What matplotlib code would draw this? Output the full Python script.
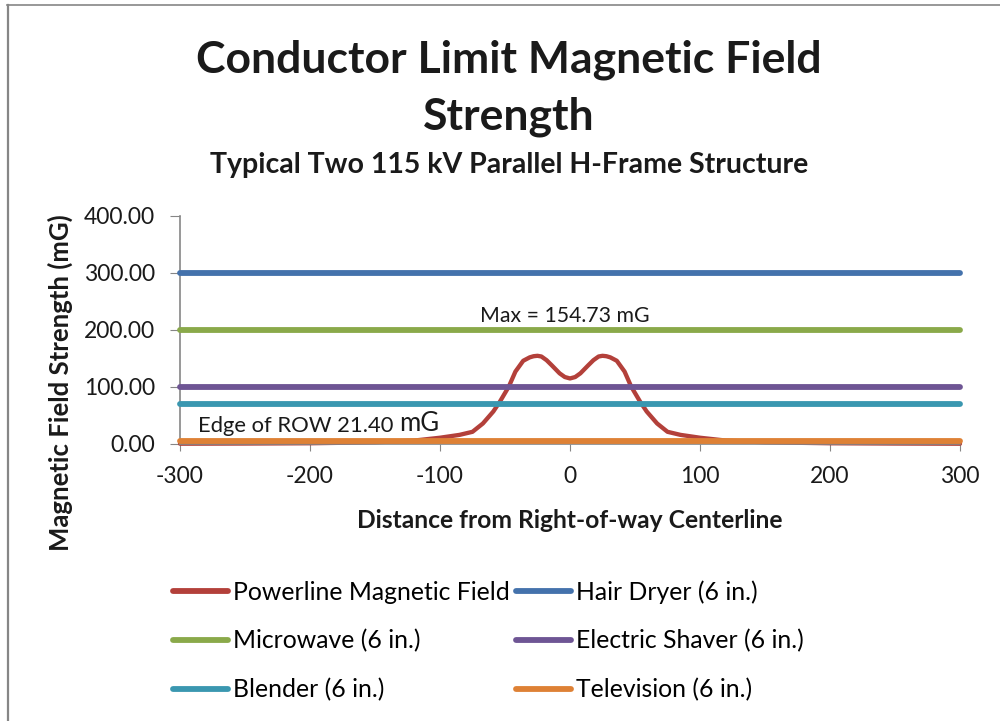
import numpy as np
import matplotlib
matplotlib.use("Agg")
import matplotlib.pyplot as plt
from matplotlib.lines import Line2D

plt.rcParams["font.family"] = ["Lato", "DejaVu Sans"]
plt.rcParams["axes.unicode_minus"] = False

# distance from centerline (ft) and field (mG)
distance = [-300, -250, -200, -150, -120, -100, -85, -75, -67, -59, -54, -47, -42,
            -36, -31, -28, -25, -22, -18, -14, -8, -4, 0, 4, 8, 14, 18, 22, 25, 28,
            31, 36, 42, 47, 54, 59, 67, 75, 85, 100, 120, 150, 200, 250, 300]
powerline = [0.5, 0.8, 1.3, 3.0, 6.0, 11.0, 16.0, 21.4, 36.0, 57.0, 74.0, 101.0, 127.0,
             146.0, 152.0, 154.0, 154.73, 153.5, 147.0, 138.0, 124.0, 117.5, 115.0,
             117.5, 124.0, 138.0, 147.0, 153.5, 154.73, 154.0, 152.0, 146.0, 127.0,
             101.0, 74.0, 57.0, 36.0, 21.4, 16.0, 11.0, 6.0, 3.0, 1.3, 0.8, 0.5]

ref_names = ["Hair Dryer (6 in.)", "Microwave (6 in.)", "Electric Shaver (6 in.)",
             "Blender (6 in.)", "Television (6 in.)"]
ref_values = [300, 200, 100, 70, 6]

x_ticks = [-300, -200, -100, 0, 100, 200, 300]
y_ticks = [0, 100, 200, 300, 400]

RED = "#B3403A"
REF_COLORS = ["#4472AC", "#8AA94A", "#6E5594", "#3A97B0", "#DE8135"]
GRAY = "#868686"
TXT = "#1a1a1a"

fig = plt.figure(figsize=(10, 7.21), dpi=100)
ax = fig.add_axes([0.18, 1 - 444 / 721, 0.78, 228 / 721])

ax.plot(distance, powerline, color=RED, lw=3.1, solid_capstyle="round",
        solid_joinstyle="round", zorder=2, clip_on=False)
for val, col in zip(ref_values, REF_COLORS):
    ax.plot([x_ticks[0], x_ticks[-1]], [val, val], color=col, lw=4.2,
            solid_capstyle="round", zorder=3, clip_on=False)

ax.set_xlim(-300, 300)
ax.set_ylim(0, 400)
ax.set_xticks(x_ticks)
ax.set_xticklabels([str(v) for v in x_ticks])
ax.set_yticks(y_ticks)
ax.set_yticklabels([f"{v:.2f}" for v in y_ticks])
ax.tick_params(direction="out", length=5, color=GRAY, labelsize=16.5, labelcolor=TXT)
ax.tick_params(axis="y", length=7, pad=11)
ax.tick_params(axis="x", pad=11)
for s in ["top", "right"]:
    ax.spines[s].set_visible(False)
for s in ["left", "bottom"]:
    ax.spines[s].set_color(GRAY)
    ax.spines[s].set_linewidth(1.2)

ax.text(-4, 224, "Max = 154.73 mG", ha="center", va="center", fontsize=15.3, color=TXT)
t1 = ax.text(-286, 21, "Edge of ROW 21.40 ", ha="left", va="baseline", fontsize=15.8,
             color=TXT)
fig.canvas.draw()
bb = t1.get_window_extent()
ax.annotate("mG", xy=(bb.x1, bb.y0), xycoords="figure pixels", fontsize=18.5,
            color=TXT, va="bottom", ha="left")

fig.text(0.509, 1 - 60 / 721, "Conductor Limit Magnetic Field", ha="center", va="center",
         fontsize=32, fontweight="bold", color=TXT)
fig.text(0.509, 1 - 117 / 721, "Strength", ha="center", va="center",
         fontsize=32, fontweight="bold", color=TXT)
fig.text(0.509, 1 - 165 / 721, "Typical Two 115 kV Parallel H-Frame Structure",
         ha="center", va="center", fontsize=20.5, fontweight="bold", color=TXT)
fig.text(0.57, 1 - 520 / 721, "Distance from Right-of-way Centerline", ha="center",
         va="center", fontsize=17.7, fontweight="bold", color=TXT)
fig.text(0.06, 1 - 383 / 721, "Magnetic Field Strength (mG)", ha="center", va="center",
         rotation=90, fontsize=18.5, fontweight="bold", color=TXT)

# legend laid out column-first: powerline, microwave, blender | dryer, shaver, tv
labels = ["Powerline Magnetic Field"] + ref_names
colors = [RED] + REF_COLORS
order = [0, 2, 4, 1, 3, 5]
handles = [Line2D([], [], color=colors[i], lw=4.2, solid_capstyle="round") for i in order]
fig.legend(handles, [labels[i] for i in order], ncol=2, loc="upper left",
           bbox_to_anchor=(0.151, 1 - 558 / 721), frameon=False, fontsize=17.8,
           handlelength=2.2, handletextpad=0.2, columnspacing=0.28, labelspacing=1.03)

# outer chart border (only top and left visible in the crop)
fig.add_artist(Line2D([0.007, 1.0], [1 - 5 / 721] * 2, color=GRAY, lw=1.2))
fig.add_artist(Line2D([0.0075, 0.0075], [0, 1 - 5 / 721], color=GRAY, lw=1.6))

fig.savefig("out.png", dpi=100)
